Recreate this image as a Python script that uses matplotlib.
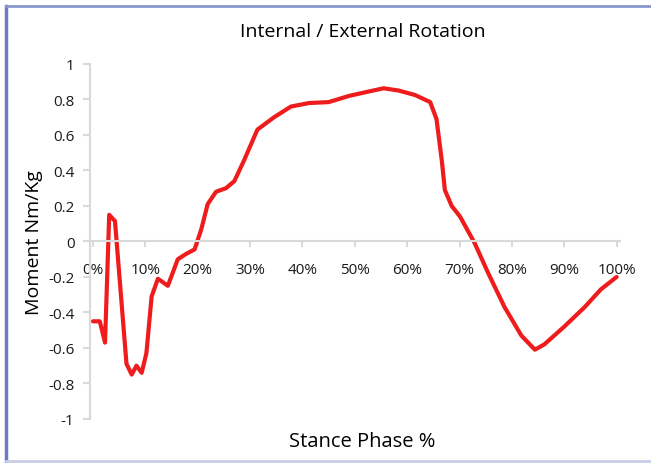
import matplotlib.pyplot as plt
from matplotlib.lines import Line2D

# stance phase (%) and moment (Nm/Kg)
stance = [0, 1.3, 2.3, 3.1, 4.2, 6.4, 7.4, 8.3, 9.3, 10.2, 11.2, 12.4, 14.3,
          16.2, 17.8, 19.4, 20.7, 21.9, 23.5, 25.4, 27.0, 28.9, 31.4, 34.6,
          37.8, 41.3, 45.0, 48.9, 52.7, 55.5, 58.4, 61.5, 64.4, 65.6, 66.6,
          67.2, 68.5, 70.1, 72.9, 75.5, 78.6, 81.8, 84.4, 86.2, 90.0, 93.9,
          97.0, 100.0]
moment = [-0.45, -0.45, -0.57, 0.15, 0.115, -0.69, -0.75, -0.70, -0.74, -0.63,
          -0.31, -0.21, -0.25, -0.10, -0.07, -0.045, 0.07, 0.21, 0.28, 0.30,
          0.34, 0.46, 0.63, 0.70, 0.76, 0.78, 0.785, 0.82, 0.845, 0.863, 0.85,
          0.825, 0.785, 0.69, 0.46, 0.29, 0.20, 0.14, -0.01, -0.18, -0.37,
          -0.53, -0.61, -0.58, -0.48, -0.37, -0.27, -0.20]

y_ticks = [-1, -0.8, -0.6, -0.4, -0.2, 0, 0.2, 0.4, 0.6, 0.8, 1]
x_ticks = list(range(0, 101, 10))

font = "Open Sans"
grey = "#d9d9d9"

fig = plt.figure(figsize=(6.51, 4.64), dpi=100)
ax = fig.add_axes([0.138, 0.095, 0.814, 0.765])

ax.plot(stance, moment, color="#ee1c1c", linewidth=3, solid_joinstyle="round",
        solid_capstyle="round")

ax.set_xlim(-0.6, 100.6)
ax.set_ylim(-1, 1)

ax.spines["top"].set_visible(False)
ax.spines["right"].set_visible(False)
ax.spines["bottom"].set_position(("data", 0))
for s in ("left", "bottom"):
    ax.spines[s].set_color(grey)
    ax.spines[s].set_linewidth(1.5)

ax.set_yticks(y_ticks)
ax.set_yticklabels([f"{v:g}" for v in y_ticks], fontname=font, fontsize=11)
ax.set_xticks(x_ticks)
ax.set_xticklabels([f"{v}%" for v in x_ticks], fontname=font, fontsize=11)
ax.tick_params(axis="y", colors=grey, labelcolor="#1a1a1a", length=5, width=1.5, pad=6)
ax.tick_params(axis="x", colors=grey, labelcolor="#1a1a1a", length=4, width=1.5,
               direction="out", pad=11)

ax.set_ylabel("Moment Nm/Kg", fontname=font, fontsize=14, labelpad=4)
fig.text(0.557, 0.048, "Stance Phase %", ha="center", va="center",
         fontname=font, fontsize=14.5)
fig.text(0.557, 0.93, "Internal / External Rotation", ha="center", va="center",
         fontname=font, fontsize=14)

# frame around the figure
fig.add_artist(Line2D([0.0095, 0.0095], [0.0, 0.985], color="#6b7bc4", linewidth=2.5,
                      transform=fig.transFigure))
fig.add_artist(Line2D([0.0095, 1.0], [0.985, 0.985], color="#8a97cc", linewidth=2,
                      transform=fig.transFigure))
fig.add_artist(Line2D([0.0095, 1.0], [0.004, 0.004], color="#c8cde6", linewidth=2,
                      transform=fig.transFigure))

fig.savefig("out.png", dpi=100)
